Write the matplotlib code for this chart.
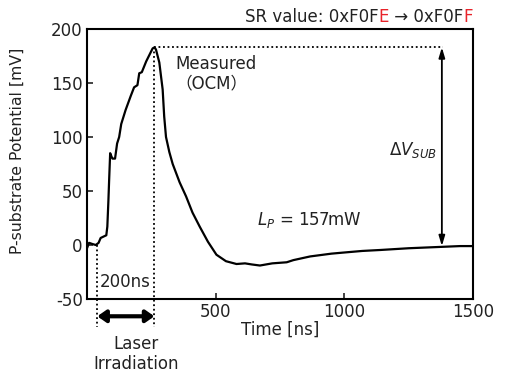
import matplotlib
matplotlib.use("Agg")
import matplotlib.pyplot as plt

plt.rcParams['font.family'] = ['DejaVu Sans', 'Noto Sans CJK JP']
plt.rcParams['mathtext.fontset'] = 'dejavusans'
plt.rcParams['axes.unicode_minus'] = False

time_ns = [0, 8, 20, 34, 45, 53, 66, 75, 79, 83, 86, 90, 95, 99, 109, 117, 125, 133,
           150, 170, 183, 196, 203, 213, 230, 255, 262, 268, 281, 294, 300, 307, 320,
           333, 360, 385, 410, 438, 470, 503, 540, 581, 614, 640, 672, 720, 776, 802,
           867, 950, 997, 1070, 1141, 1250, 1350, 1450, 1500]
potential_mv = [-3, 2, 1, 0, 2, 6.5, 8, 9, 17, 40, 60, 85, 82, 80, 80, 94, 100, 112,
                125, 138, 146, 148, 159, 160, 170, 182, 183, 181, 169, 144, 119, 100, 86,
                75, 58, 45, 30, 17, 3, -9, -15, -17.6, -17, -18, -19, -17, -16, -14,
                -10.6, -8, -7, -5.5, -4.6, -3, -2, -1, -1]

xticks = [500, 1000, 1500]
yticks = [-50, 0, 50, 100, 150, 200]
peak_t, peak_v = 260, 183
laser_start, laser_end = 40, 262
dv_x = 1379

FS = 12
tc = '#222222'

fig = plt.figure(figsize=(5.07, 3.74), dpi=100)
ax = fig.add_axes([87/507, 1-299/374, (473-87)/507, (299-29)/374])

ax.plot(time_ns, potential_mv, color='black', lw=1.6)
ax.set_xlim(0, 1500)
ax.set_ylim(-50, 200)
ax.set_xticks(xticks)
ax.set_yticks(yticks)
ax.tick_params(direction='in', length=4, width=1.2, labelsize=FS, colors=tc, pad=3)
for s in ax.spines.values():
    s.set_linewidth(1.5)

ax.set_xlabel('Time [ns]', fontsize=FS, color=tc, labelpad=0)
ax.set_ylabel('P-substrate Potential [mV]', fontsize=11.3, color=tc)
ax.yaxis.set_label_coords(-0.16, 0.55)

# dotted peak line
ax.plot([peak_t, dv_x + 5], [peak_v, peak_v], ls=(0, (1, 1.5)), color='black', lw=1.3)
# vertical dotted laser lines
ax.plot([laser_start, laser_start], [0, -76], ls=(0, (1, 1.5)), color='black', lw=1.3, clip_on=False)
ax.plot([laser_end, laser_end], [peak_v, -76], ls=(0, (1, 1.5)), color='black', lw=1.3, clip_on=False)

# delta V arrow
ax.annotate('', xy=(dv_x, -1), xytext=(dv_x, peak_v),
            arrowprops=dict(arrowstyle='<|-|>,head_length=0.6,head_width=0.18',
                            color='black', lw=1.3, shrinkA=0, shrinkB=0))
# laser arrow
ax.annotate('', xy=(laser_start, -66), xytext=(laser_end, -66), annotation_clip=False,
            arrowprops=dict(arrowstyle='<|-|>,head_length=0.5,head_width=0.35',
                            color='black', lw=3, shrinkA=0, shrinkB=0))

ax.text(148, -34, '200ns', ha='center', va='center', fontsize=FS, color=tc)
ax.text(190, -83, 'Laser\nIrradiation', ha='center', va='top', fontsize=FS, color=tc,
        linespacing=1.15, clip_on=False)
ax.text(344, 168, 'Measured', ha='left', va='center', fontsize=FS, color=tc)
ax.text(485, 150, '（OCM）', ha='center', va='center', fontsize=FS, color=tc)
ax.text(660, 23, r'$L_P$ = 157mW', ha='left', va='center', fontsize=FS, color=tc)
ax.text(1360, 88, r'$\Delta V_{SUB}$', ha='right', va='center', fontsize=FS, color=tc)

# title with red characters, built right-to-left
t4 = ax.annotate('F', xy=(1.0, 1.0), xycoords='axes fraction', xytext=(0, 2),
                 textcoords='offset points', ha='right', va='bottom', fontsize=FS, color='#e8232a')
t3 = ax.annotate(' → 0xF0F', xy=(0, 0), xycoords=t4, ha='right', va='bottom', fontsize=FS, color=tc)
t2 = ax.annotate('E', xy=(0, 0), xycoords=t3, ha='right', va='bottom', fontsize=FS, color='#e8232a')
t1 = ax.annotate('SR value: 0xF0F', xy=(0, 0), xycoords=t2, ha='right', va='bottom', fontsize=FS, color=tc)

fig.savefig('out.png', dpi=100)
